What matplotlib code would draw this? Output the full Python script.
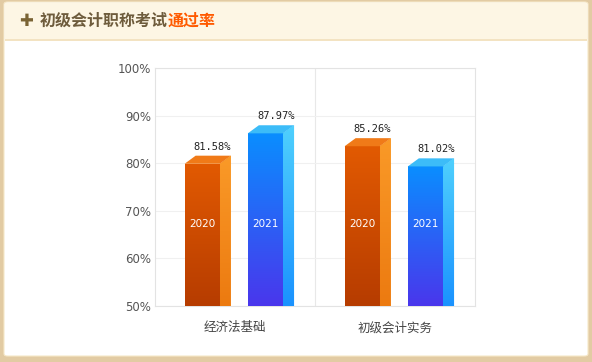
"""Pass-rate chart for the junior accounting exam, 3D-look bars."""
import numpy as np
import matplotlib
matplotlib.use("Agg")
import matplotlib.pyplot as plt
from matplotlib.patches import Rectangle, FancyBboxPatch, Polygon
from matplotlib.colors import LinearSegmentedColormap

W, H = 592, 362

# data
categories = ["经济法基础", "初级会计实务"]
years = ["2020", "2021"]
rate_2020 = [81.58, 85.26]
rate_2021 = [87.97, 81.02]
y_ticks = [50, 60, 70, 80, 90, 100]

# styles: (front top, front bottom, side top, side bottom, cap)
styles = {
    "2020": ("#e25a02", "#b63c00", "#fa9a28", "#ec7a10", "#f07a18"),
    "2021": ("#0a8eff", "#4a36ec", "#4fd0fd", "#1a92ff", "#3cbcf8"),
}
offsets = {"2020": -0.205, "2021": 0.19}
bar_w = 0.22
dx, dy = 0.069, 1.7  # depth of the fake 3d box in data units

plt.rcParams["font.family"] = ["Noto Sans CJK SC", "DejaVu Sans"]

fig = plt.figure(figsize=(W / 100, H / 100), dpi=100)
fig.patch.set_facecolor("#e2cba3")


def fx(x):
    return x / W


def fy(y):
    return 1 - y / H


# panel + header strip
fig.patches.append(FancyBboxPatch((fx(4), fy(356)), fx(584), 354 / H,
                                  boxstyle="round,pad=0,rounding_size=0.006",
                                  transform=fig.transFigure, facecolor="white",
                                  edgecolor="#f6e8c8", linewidth=0.8, zorder=-3))
fig.patches.append(Rectangle((fx(5), fy(39)), fx(582), 36 / H,
                             transform=fig.transFigure, facecolor="#fdf6e4",
                             edgecolor="none", zorder=-2))
fig.patches.append(Rectangle((fx(5), fy(40.5)), fx(582), 1.5 / H,
                             transform=fig.transFigure, facecolor="#f3e3c2",
                             edgecolor="none", zorder=-2))

fig.text(fx(26.5), fy(21), "✚", fontsize=12, color="#7a6434", ha="center",
         va="center", family=["DejaVu Sans"])
fig.text(fx(40), fy(21), "初级会计职称考试", fontsize=11.5, fontweight="bold",
         color="#6e5c3c", ha="left", va="center")
fig.text(fx(168), fy(21), "通过率", fontsize=11.5, fontweight="bold",
         color="#ff5a00", ha="left", va="center")

ax = fig.add_axes([fx(155), 1 - 306 / H, 320 / W, 238 / H])
ax.set_zorder(2)
ax.set_facecolor("white")

xc = np.arange(len(categories)) + 0.5
for yr, vals in zip(years, [rate_2020, rate_2021]):
    ft, fb, st, sb, cap = styles[yr]
    xs = xc + offsets[yr]
    heights = [v - dy - 50 for v in vals]
    bars = ax.bar(xs, heights, bottom=50, width=bar_w, color=ft, zorder=3,
                  linewidth=0)
    for b, v in zip(bars, vals):
        x0 = b.get_x()
        x1 = x0 + b.get_width()
        top = v - dy
        cmap = LinearSegmentedColormap.from_list("f", [fb, ft])
        img = ax.imshow(np.linspace(0, 1, 256).reshape(-1, 1), cmap=cmap,
                        extent=[x0, x1, 50, top], origin="lower",
                        aspect="auto", zorder=3.1, interpolation="bilinear")
        img.set_clip_path(b)
        side = Polygon([(x1, 50), (x1, top), (x1 + dx, v), (x1 + dx, 50)],
                       closed=True, facecolor=st, edgecolor="none", zorder=3)
        ax.add_patch(side)
        cmap2 = LinearSegmentedColormap.from_list("s", [sb, st])
        img2 = ax.imshow(np.linspace(0, 1, 256).reshape(-1, 1), cmap=cmap2,
                         extent=[x1, x1 + dx, 50, v], origin="lower",
                         aspect="auto", zorder=3.1, interpolation="bilinear")
        img2.set_clip_path(side)
        ax.add_patch(Polygon([(x0, top), (x1, top), (x1 + dx, v), (x0 + dx, v)],
                             closed=True, facecolor=cap, edgecolor="none",
                             zorder=3.2))
        ax.annotate(f"{v:.2f}%", ((x0 + x1) / 2 + 0.065, v), xytext=(0, 3),
                    textcoords="offset points", ha="center", va="bottom",
                    fontsize=7.5, color="#222222", family=["DejaVu Sans Mono"])
        ax.text((x0 + x1) / 2, 67.3, yr, ha="center", va="center",
                fontsize=7.5, color="white", zorder=4,
                family=["DejaVu Sans"])

ax.set_xlim(0, 2)
ax.set_ylim(50, 100)
ax.set_yticks(y_ticks)
ax.set_yticklabels([f"{t}%" for t in y_ticks], fontsize=8.5, color="#555555",
                   family=["DejaVu Sans"])
ax.set_xticks(xc)
ax.set_xticklabels(categories, fontsize=9, color="#444444")
ax.tick_params(length=0)
ax.tick_params(axis="y", pad=3)
ax.tick_params(axis="x", pad=11)
ax.yaxis.grid(True, color="#f0f0f0", linewidth=0.8, zorder=0)
ax.axvline(1, color="#e8e8e8", linewidth=0.8, zorder=0)
for s in ax.spines.values():
    s.set_color("#e3e3e3")
    s.set_linewidth(0.8)
ax.set_axisbelow(True)

fig.savefig("out.png", dpi=100, facecolor=fig.get_facecolor())
